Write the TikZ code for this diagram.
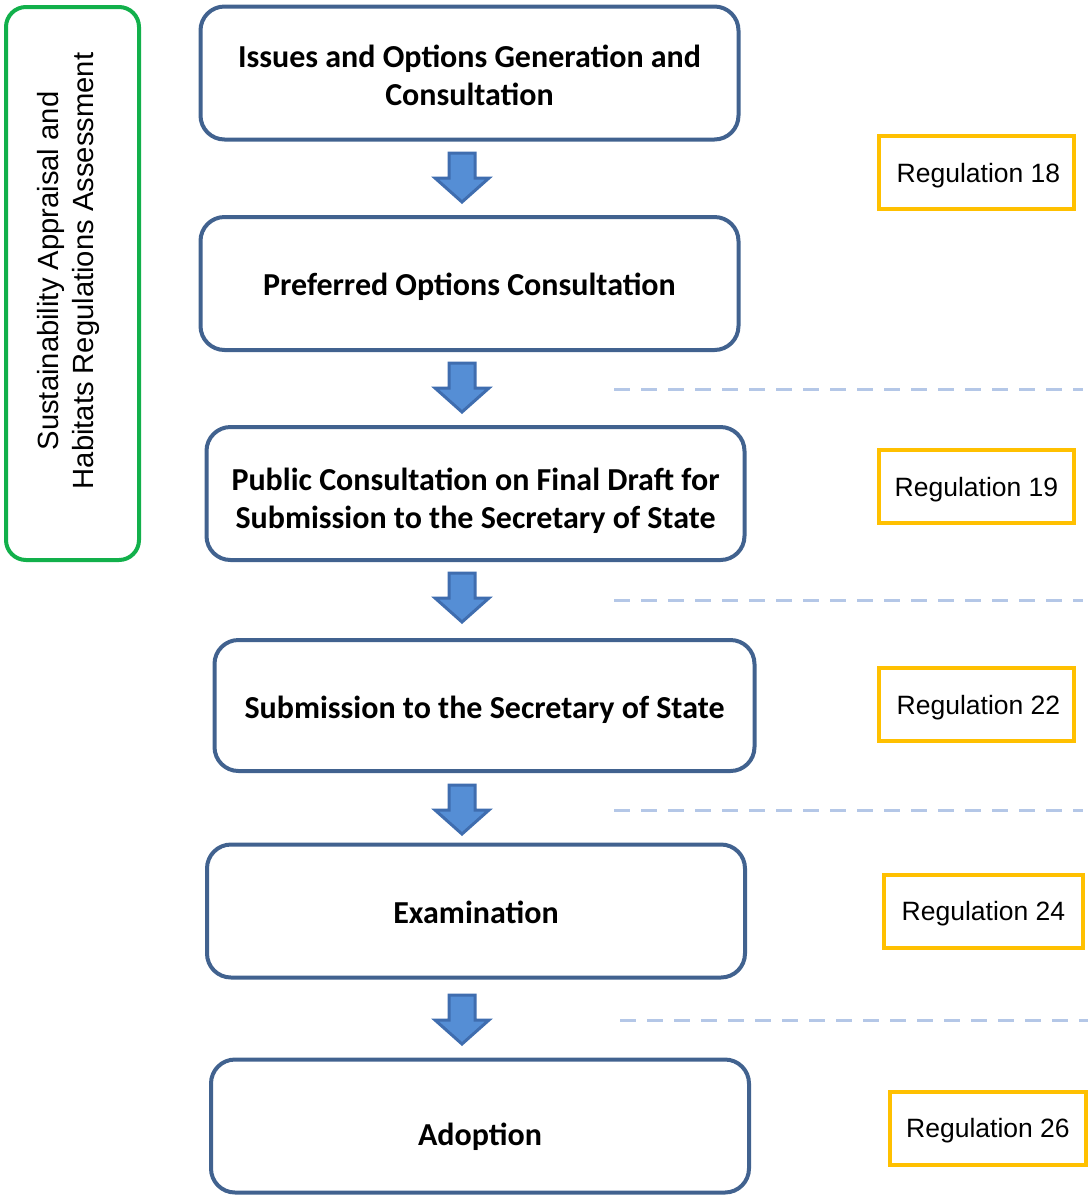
\documentclass[tikz,border=0pt]{standalone}
\usepackage{fontspec}
\setmainfont{Carlito}
\newfontfamily\arialf{Liberation Sans}
\definecolor{boxblue}{HTML}{41628F}
\definecolor{arrfill}{HTML}{558ED5}
\definecolor{arrline}{HTML}{3F6DAF}
\definecolor{dashblue}{HTML}{B4C7E7}
\definecolor{regorange}{HTML}{FFC000}
\definecolor{sagreen}{HTML}{12B04B}
\begin{document}
\begin{tikzpicture}[x=0.5pt,y=-0.5pt,
  stage/.style={draw=boxblue, line width=2pt, rounded corners=12pt, fill=white,
    minimum width=269pt, minimum height=66.5pt},
  stagetext/.style={align=center, font=\fontsize{16}{19}\selectfont\bfseries, text=black},
  reg/.style={draw=regorange, line width=2pt, minimum width=97.5pt, minimum height=36.5pt,
    text depth=0pt, font=\arialf\fontsize{13.25}{15}\selectfont, text=black},
  sep/.style={draw=dashblue, line width=1.5pt, dash pattern=on 8pt off 5.5pt},
  blockarr/.style={draw=arrline, fill=arrfill, line width=1.5pt, line join=miter},
]
\useasboundingbox (0,0) rectangle (1088,1196);

% side box
\node[draw=sagreen, line width=2pt, rounded corners=10pt, minimum width=66.5pt, minimum height=276.5pt] (sa) at (72.5,283.5) {};
\node[rotate=90, align=center, font=\arialf\fontsize{14.6}{17.5}\selectfont] (satext) at (68,271)
  {Sustainability Appraisal and\\Habitats Regulations Assessment};

% stages
\node[stage] (s1) at (469.5,73) {};
\node[stage] (s2) at (469.5,283.5) {};
\node[stage] (s3) at (475.5,493.5) {};
\node[stage, minimum width=270pt, minimum height=65.5pt] (s4) at (484.5,705.5) {};
\node[stage] (s5) at (476,911) {};
\node[stage] (s6) at (480,1126) {};
\node[stagetext, yshift=-1pt] (t1) at (s1.center) {Issues and Options Generation and\\Consultation};
\node[stagetext, yshift=-1.5pt] (t2) at (s2.center) {Preferred Options Consultation};
\node[stagetext, yshift=-3.5pt] (t3) at (s3.center) {Public Consultation on Final Draft for\\Submission to the Secretary of State};
\node[stagetext, yshift=-2pt] (t4) at (s4.center) {Submission to the Secretary of State};
\node[stagetext, yshift=-0.5pt] (t5) at (s5.center) {Examination};
\node[stagetext, yshift=-5.5pt] (t6) at (s6.center) {Adoption};

% block arrows between stages
\foreach \y in {153,363,573,785,995}{
  \draw[blockarr] (449,\y) -- (475,\y) -- (475,\y+25) -- (489,\y+25) -- (462,\y+49)
    -- (435,\y+25) -- (449,\y+25) -- cycle;
}

% dashed separators
\coordinate (d1a) at (614,389); \coordinate (d1b) at (1083,389);
\coordinate (d2a) at (614,600); \coordinate (d2b) at (1083,600);
\coordinate (d3a) at (614,810); \coordinate (d3b) at (1083,810);
\coordinate (d4a) at (620,1020); \coordinate (d4b) at (1088,1020);
\draw[sep] (d1a) -- (d1b);
\draw[sep] (d2a) -- (d2b);
\draw[sep] (d3a) -- (d3b);
\draw[sep] (d4a) -- (d4b);

% regulation boxes
\node[reg] (r18) at (976.5,172.5) {\hspace{2pt}Regulation 18};
\node[reg] (r19) at (976.5,486.5) {Regulation 19};
\node[reg] (r22) at (976.5,704.5) {\hspace{2pt}Regulation 22};
\node[reg, minimum width=99.5pt] (r24) at (983.5,911) {Regulation 24};
\node[reg, minimum width=98pt] (r26) at (988,1128) {Regulation 26};
\end{tikzpicture}
\end{document}
